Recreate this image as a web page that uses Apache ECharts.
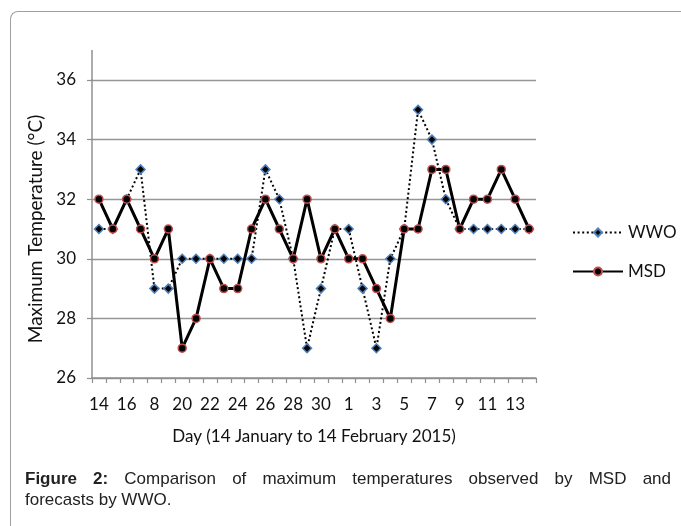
<!DOCTYPE html>
<html lang="en">
<head>
<meta charset="UTF-8">
<title>Maximum temperature MSD vs WWO</title>
<style type="text/css">
    *{
        margin: 0;
        padding: 0;
    }
    body{
        background-color: #fff;
        overflow: hidden;
    }
    .wrap{
        position: relative;
        width: 681px;
        height: 526px;
        overflow: hidden;
    }
    /* figure frame, only top + left edge visible */
    .frame{
        position: absolute;
        left: 10px;
        top: 11px;
        width: 700px;
        height: 560px;
        border-top: 1.5px solid #a0a0a0;
        border-left: 1.5px solid #a0a0a0;
        border-top-left-radius: 8px;
    }
    .echarts{
        position: absolute;
        left: 0;
        top: 0;
        width: 681px;
        height: 526px;
    }
    .caption{
        position: absolute;
        left: 25px;
        top: 468px;
        width: 646px;
        font-family: "Liberation Sans", Arial, sans-serif;
        font-size: 17px;
        line-height: 21px;
        color: #222;
    }
    .caption .l1{
        text-align: justify;
        text-align-last: justify;
        white-space: nowrap;
    }
</style>
</head>
<body>
<div class="wrap">
    <div class="frame"></div>
    <div class="echarts"></div>
    <div class="caption">
        <div class="l1"><b>Figure 2:</b> Comparison of maximum temperatures observed by MSD and</div>
        <div>forecasts by WWO.</div>
    </div>
</div>

<script src="https://cdn.jsdelivr.net/npm/echarts@6/dist/echarts.min.js"></script>
<script type="text/javascript">
// 14 Jan .. 14 Feb 2015
var days = ['14','15','16','17','8','19','20','21','22','23','24','25','26','27','28','29','30','31',
            '1','2','3','4','5','6','7','8','9','10','11','12','13','14']
var wwo = [31,31,32,33,29,29,30,30,30,30,30,30,33,32,30,27,29,31,31,29,27,30,31,35,34,32,31,31,31,31,31,31]
var msd = [32,31,32,31,30,31,27,28,30,29,29,31,32,31,30,32,30,31,30,30,29,28,31,31,33,33,31,32,32,33,32,31]
var yTicks = [26,28,30,32,34,36]

var font = 'Lato, "Open Sans", sans-serif'
var chart = echarts.init(document.querySelector('.echarts'))

var options = {
    animation: false,
    grid: {
        left: 92,
        top: 80,
        right: 145,
        bottom: 148
    },
    legend: {
        orient: 'vertical',
        left: 567,
        top: 219,
        itemWidth: 50,
        itemHeight: 10,
        itemGap: 22,
        textStyle: {
            fontFamily: font,
            fontSize: 17,
            color: '#111'
        },
        data: ['WWO', 'MSD']
    },
    xAxis: {
        type: 'category',
        data: days,
        boundaryGap: true,
        name: 'Day (14 January to 14 February 2015)',
        nameLocation: 'middle',
        nameGap: 50,
        nameTextStyle: {
            fontFamily: font,
            fontSize: 17,
            color: '#111'
        },
        axisLine: {
            lineStyle: { color: '#909090', width: 1.5 }
        },
        axisTick: {
            show: true,
            interval: 0,
            length: 5,
            lineStyle: { color: '#909090', width: 1.2 }
        },
        axisLabel: {
            interval: 1,
            margin: 18,
            fontFamily: font,
            fontSize: 17,
            color: '#111'
        }
    },
    yAxis: {
        type: 'value',
        min: yTicks[0],
        max: yTicks[yTicks.length - 1],
        interval: 2,
        name: 'Maximum Temperature (\u00b0C)',
        nameLocation: 'middle',
        nameGap: 47,
        nameTextStyle: {
            fontFamily: font,
            fontSize: 19,
            color: '#111'
        },
        axisLine: {
            show: true,
            lineStyle: { color: '#909090', width: 1.5 }
        },
        axisTick: {
            show: true,
            length: 5,
            lineStyle: { color: '#909090', width: 1.2 }
        },
        axisLabel: {
            margin: 16,
            fontFamily: font,
            fontSize: 17,
            color: '#111'
        },
        splitLine: {
            lineStyle: { color: '#969696', width: 1.3 }
        }
    },
    series: [
        {
            name: 'WWO',
            type: 'line',
            data: wwo,
            symbol: 'diamond',
            symbolSize: 9,
            lineStyle: {
                color: '#000',
                width: 2,
                type: [2, 2.6]
            },
            itemStyle: {
                color: '#000',
                borderColor: '#4f81bd',
                borderWidth: 1.5
            },
            z: 2
        },
        {
            name: 'MSD',
            type: 'line',
            data: msd,
            symbol: 'circle',
            symbolSize: 8,
            lineStyle: {
                color: '#000',
                width: 3
            },
            itemStyle: {
                color: '#000',
                borderColor: '#c0504d',
                borderWidth: 1.5
            },
            z: 3
        }
    ],
    // y axis line runs a bit above the 36 grid line
    graphic: [
        {
            type: 'line',
            shape: { x1: 92, y1: 50, x2: 92, y2: 80 },
            style: { stroke: '#909090', lineWidth: 1.5 }
        }
    ]
}
chart.setOption(options)
</script>
</body>
</html>
